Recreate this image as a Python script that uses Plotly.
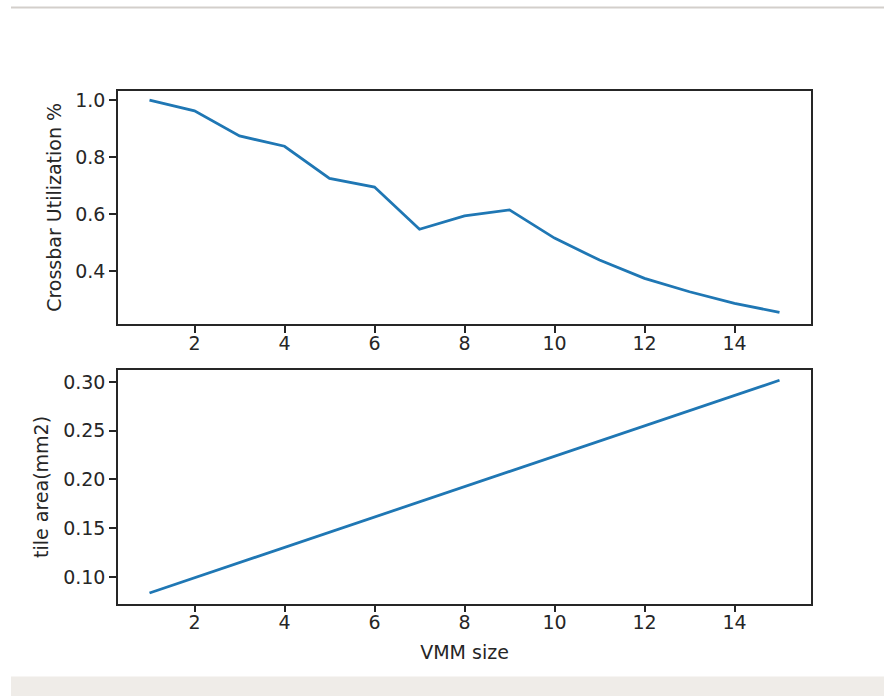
import plotly.graph_objects as go

# ---- data ----
vmm_size = [1, 2, 3, 4, 5, 6, 7, 8, 9, 10, 11, 12, 13, 14, 15]
crossbar_util = [1.0, 0.962, 0.874, 0.838, 0.725, 0.695, 0.547, 0.594, 0.615,
                 0.516, 0.439, 0.375, 0.328, 0.287, 0.256]
tile_area = [0.0836, 0.0992, 0.1148, 0.1303, 0.1459, 0.1615, 0.1771, 0.1927,
             0.2082, 0.2238, 0.2394, 0.2550, 0.2705, 0.2861, 0.3017]
x_ticks = [2, 4, 6, 8, 10, 12, 14]
util_ticks = [0.4, 0.6, 0.8, 1.0]
area_ticks = [0.10, 0.15, 0.20, 0.25, 0.30]

W, H = 884, 696
LINE = "#1f77b4"
INK = "#262626"
FONT = "DejaVu Sans"
FS = 19

fig = go.Figure()
fig.add_trace(go.Scatter(x=vmm_size, y=crossbar_util, mode="lines",
                         line=dict(color=LINE, width=2.8),
                         xaxis="x", yaxis="y", showlegend=False))
fig.add_trace(go.Scatter(x=vmm_size, y=tile_area, mode="lines",
                         line=dict(color=LINE, width=2.8),
                         xaxis="x2", yaxis="y2", showlegend=False))

xdom = [118 / W, 811 / W]
top_dom = [1 - 323 / H, 1 - 89 / H]
bot_dom = [1 - 603.3 / H, 1 - 369.3 / H]

axis_common = dict(showline=True, mirror=True, linecolor=INK, linewidth=1.5,
                   ticks="outside", ticklen=7, tickwidth=1.5, tickcolor=INK,
                   showgrid=False, zeroline=False,
                   tickfont=dict(family=FONT, size=FS, color=INK))

fig.update_layout(
    width=W, height=H,
    margin=dict(l=0, r=0, t=0, b=0),
    paper_bgcolor="white", plot_bgcolor="white",
    font=dict(family=FONT, size=FS, color=INK),
    xaxis=dict(domain=xdom, anchor="y", range=[0.3, 15.7],
               tickvals=x_ticks, ticktext=[str(v) for v in x_ticks],
               ticklabelstandoff=-6,
               **axis_common),
    yaxis=dict(domain=top_dom, anchor="x", range=[0.2148, 1.0325],
               tickvals=util_ticks, ticktext=[f"{v:.1f}" for v in util_ticks],
               title=dict(text="Crossbar Utilization %", standoff=9,
                          font=dict(family=FONT, size=FS, color=INK)),
               **axis_common),
    xaxis2=dict(domain=xdom, anchor="y2", range=[0.3, 15.7],
                tickvals=x_ticks, ticktext=[str(v) for v in x_ticks],
                ticklabelstandoff=-6,
                title=dict(text="VMM size", standoff=14,
                           font=dict(family=FONT, size=FS, color=INK)),
                **axis_common),
    yaxis2=dict(domain=bot_dom, anchor="x2", range=[0.0728, 0.312],
                tickvals=area_ticks, ticktext=[f"{v:.2f}" for v in area_ticks],
                title=dict(text="tile area(mm2)", standoff=9,
                           font=dict(family=FONT, size=FS, color=INK)),
                **axis_common),
    shapes=[
        dict(type="line", xref="paper", yref="paper",
             x0=11 / W, x1=1, y0=1 - 5.5 / H, y1=1 - 5.5 / H,
             line=dict(color="#d3cfcb", width=2), layer="below"),
        dict(type="rect", xref="paper", yref="paper",
             x0=11 / W, x1=1, y0=0, y1=1 - 676.5 / H,
             fillcolor="#efece8", line=dict(width=0), layer="below"),
    ],
)

fig.write_html("out.html",
               config={"displayModeBar": False},
               post_script="document.body.style.margin='0';"
                           "document.body.style.overflow='hidden';")
